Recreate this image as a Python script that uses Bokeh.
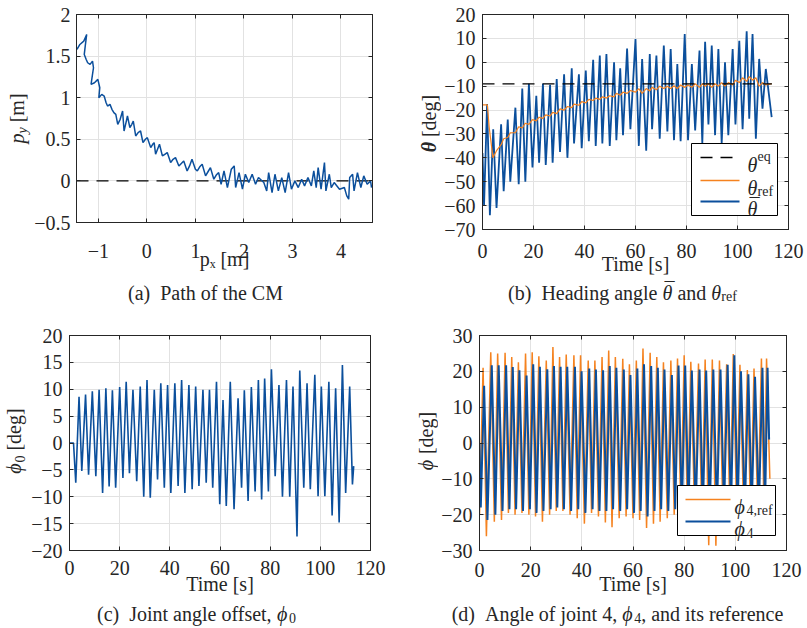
import math
from bokeh.plotting import figure
from bokeh.layouts import column, row
from bokeh.models import (Range1d, FixedTicker, LinearAxis, Grid, CustomJSTickFormatter,
                          Label, BoxAnnotation, Arrow)
from bokeh.embed import file_html
from bokeh.resources import INLINE
from bokeh.core.validation import silence
from bokeh.core.validation.warnings import MISSING_RENDERERS

silence(MISSING_RENDERERS, True)

FONT = "Liberation Serif"
BLUE = "#0b4f9c"
ORANGE = "#f5821f"
INK = "#262626"
GRID = "#e2e2e2"

# ---------------- (a) path of the CM ----------------
px_path = [-1.44, -1.38, -1.30, -1.24, -1.27, -1.29, -1.25, -1.22, -1.17, -1.12,
           -1.10, -1.13, -1.15, -1.08, -1.01, -0.97, -0.99, -0.93, -0.88, -0.84,
           -0.81, -0.76, -0.72, -0.68, -0.64, -0.60, -0.55, -0.50, -0.47, -0.43,
           -0.40, -0.35, -0.31, -0.28, -0.23, -0.18, -0.13, -0.08, -0.03, 0.01,
           0.08, 0.12, 0.15, 0.18, 0.22, 0.26, 0.32, 0.37, 0.42, 0.49,
           0.54, 0.59, 0.66, 0.71, 0.76, 0.83, 0.88, 0.93, 1.00, 1.04,
           1.09, 1.14, 1.21, 1.26, 1.31, 1.38, 1.43, 1.48, 1.53, 1.59,
           1.66, 1.74, 1.80, 1.83, 1.90, 1.97, 2.03, 2.10, 2.17, 2.24,
           2.30, 2.41, 2.47, 2.51, 2.58, 2.64, 2.71, 2.78, 2.85, 2.92,
           2.98, 3.05, 3.12, 3.19, 3.25, 3.32, 3.39, 3.44, 3.49, 3.53,
           3.59, 3.66, 3.69, 3.76, 3.80, 3.86, 3.97, 4.07, 4.12, 4.16,
           4.18, 4.24, 4.27, 4.34, 4.41, 4.47, 4.54, 4.61, 4.63]
py_path = [1.58, 1.64, 1.68, 1.76, 1.62, 1.52, 1.46, 1.42, 1.40, 1.44,
           1.36, 1.24, 1.16, 1.18, 1.22, 1.12, 1.00, 1.04, 1.02, 0.94,
           0.90, 0.92, 0.86, 0.82, 0.80, 0.68, 0.74, 0.84, 0.60, 0.70,
           0.78, 0.64, 0.68, 0.72, 0.54, 0.58, 0.60, 0.46, 0.50, 0.52,
           0.40, 0.44, 0.46, 0.32, 0.38, 0.44, 0.30, 0.32, 0.34, 0.22,
           0.26, 0.28, 0.18, 0.21, 0.24, 0.12, 0.18, 0.26, 0.14, 0.12,
           0.17, 0.20, 0.06, 0.11, 0.16, 0.02, 0.07, 0.10, -0.04, 0.12,
           -0.08, 0.14, 0.18, -0.08, 0.10, -0.10, 0.08, -0.02, 0.08, -0.04,
           0.04, -0.02, -0.12, 0.10, -0.14, 0.08, -0.12, 0.04, -0.14, 0.10,
           -0.10, 0.00, -0.08, 0.02, -0.06, 0.04, -0.06, 0.12, -0.08, 0.16,
           -0.10, 0.22, -0.12, 0.08, -0.08, -0.02, -0.10, -0.08, -0.18, -0.22,
           0.04, 0.08, -0.12, 0.10, -0.08, 0.06, -0.04, 0.00, -0.08]
py_desired = [0.0, 0.0]
px_desired = [-1.45, 4.65]
a_xticks = [-1, 0, 1, 2, 3, 4]
a_yticks = [-0.5, 0, 0.5, 1, 1.5, 2]

# ---------------- (b) heading angle ----------------
theta_t = [0.0, 0.6, 1.8, 2.9, 4.2, 5.5, 7.3, 8.3, 9.9, 10.9,
           12.9, 14.2, 15.6, 16.8, 18.2, 19.6, 21.1, 22.2, 23.7, 24.8,
           26.5, 27.5, 29.1, 30.4, 32.0, 33.3, 35.0, 35.9, 37.8, 38.9,
           40.5, 41.7, 43.4, 44.4, 46.0, 47.0, 48.6, 49.9, 51.6, 52.5,
           54.0, 55.1, 56.7, 58.0, 60.0, 61.3, 62.6, 64.2, 65.6, 66.5,
           68.2, 69.5, 71.1, 72.5, 73.8, 75.1, 76.4, 77.7, 79.3, 80.6,
           82.1, 83.4, 85.1, 86.2, 87.3, 88.6, 89.9, 91.2, 92.5, 93.8,
           95.1, 96.4, 98.1, 99.2, 100.7, 102.0, 103.6, 104.6, 105.9, 107.2,
           108.5, 109.8, 111.1, 113.4]
theta_v = [-38, -60, -17.5, -64, -28, -61, -26, -54, -24, -50,
           -19, -51, -11, -50, -9, -44, -14, -42, -9, -43,
           -9.4, -42, -7, -37.5, -5, -40, -2.5, -34, -5, -36,
           -3.5, -33, 1, -35, 2.8, -34, 3.5, -35, 0, -32.6,
           -2.5, -30.5, 5.8, -28, 9.7, -35, 1.4, -37, 3.5, -28,
           2.8, -32, 7, -29, 5.5, -32.6, -0.7, -33, 11.8, -32.6,
           -0.7, -28.5, 4.9, -34, 8.6, -26, 7, -30.5, 5.5, -34,
           0, -30.5, 5.5, -26, 9, -28, 13, -23.6, 11.8, -32,
           1.4, -19.4, -2.8, -23]
ref_t = [0.0, 1.9, 2.6, 4.1, 5.5, 7.3, 8.3, 9.9, 10.9, 12.9,
         14.2, 15.6, 16.8, 18.2, 19.6, 21.1, 22.2, 23.7, 24.8, 26.5,
         27.5, 29.1, 30.4, 32.0, 33.3, 35.0, 35.9, 37.8, 38.9, 40.5,
         41.7, 43.4, 44.4, 46.0, 47.0, 48.6, 49.9, 51.6, 52.5, 54.0,
         55.1, 56.7, 58.0, 60.0, 61.3, 62.6, 64.2, 65.6, 66.5, 68.2,
         69.5, 71.1, 72.5, 73.8, 75.1, 76.4, 77.7, 79.3, 80.6, 82.1,
         83.4, 85.1, 86.2, 87.3, 88.6, 89.9, 91.2, 92.5, 93.8, 95.1,
         96.4, 98.1, 99.2, 100.7, 102.0, 103.6, 104.6, 105.9, 107.2, 108.5,
         109.8, 111.1, 113.4]
ref_v = [-17.8, -17.8, -27, -40, -37, -34.5, -32, -31.5, -29.5, -29.5,
         -27, -27.5, -25.5, -26, -24, -24.5, -23, -23.5, -22, -22.5,
         -21, -21.5, -19.5, -20, -18.5, -19, -17.5, -18, -16.5, -17,
         -15.5, -16, -15, -15.5, -14.5, -15, -14, -14.5, -13, -13.8,
         -12.5, -13, -11.8, -12.5, -11, -13, -11, -12, -10.5, -11.5,
         -10, -11, -10, -11, -9.8, -11, -9.5, -10.5, -9.5, -10.5,
         -9, -10.5, -9, -10, -9, -10.5, -9, -10, -8.5, -10,
         -8.5, -9.5, -7.5, -8.5, -6.5, -8, -6, -7.5, -6.5, -10,
         -8.5, -9.5, -9]
eq_t = [0.0, 113.5]
eq_v = [-9.0, -9.0]
time_ticks = [0, 20, 40, 60, 80, 100, 120]
b_yticks = [-70, -60, -50, -40, -30, -20, -10, 0, 10, 20]

# ---------------- (c) joint angle offset ----------------
phi0_t = [0.0, 1.6, 2.5, 3.8, 4.9, 6.4, 7.6, 9.1, 10.5, 11.8,
          13.2, 14.5, 15.8, 17.1, 18.4, 20.0, 21.3, 22.6, 23.9, 25.3,
          26.8, 28.2, 29.6, 30.9, 32.2, 33.8, 35.1, 36.4, 37.8, 39.1,
          40.4, 42.0, 43.3, 44.7, 46.0, 47.6, 48.9, 50.3, 51.6, 53.2,
          54.5, 55.8, 57.1, 58.6, 59.9, 61.2, 62.5, 64.1, 65.6, 67.2,
          68.6, 69.7, 71.2, 72.5, 74.0, 75.3, 76.6, 77.8, 79.3, 80.5,
          82.0, 83.5, 84.9, 86.5, 87.8, 89.1, 90.7, 91.8, 93.4, 94.7,
          96.0, 97.8, 99.1, 100.4, 101.8, 103.4, 104.7, 106.1, 107.5, 108.8,
          110.1, 111.7, 112.8, 113.3]
phi0_v = [0, 0, -7.4, 8.6, -5.2, 9.0, -5.9, 9.6, -6.2, 9.9,
          -9.3, 10.2, -8.1, 9.8, -8.3, 10.4, -6.5, 11.4, -5.6, 9.9,
          -7.1, 10.5, -10.0, 11.7, -10.2, 9.9, -6.8, 11.1, -8.3, 10.8,
          -9.3, 11.1, -8.0, 11.7, -9.3, 10.8, -8.6, 10.5, -8.0, 9.9,
          -7.4, 9.9, -8.3, 11.4, -11.4, 8.0, -11.7, 11.4, -12.3, 8.3,
          -8.3, 9.8, -10.8, 10.4, -9.0, 11.7, -10.5, 12.0, -9.0, 13.7,
          -6.2, 10.8, -10.0, 11.7, -10.0, 10.5, -17.4, 13.5, -8.3, 11.1,
          -8.6, 12.7, -9.9, 10.5, -9.9, 11.4, -13.5, 10.2, -14.8, 14.5,
          -9.3, 10.5, -7.7, -4.3]
c_yticks = [-20, -15, -10, -5, 0, 5, 10, 15, 20]

# ---------------- (d) angle of joint 4 ----------------
phi4_peak_t = [1.8, 4.8, 7.5, 10.4, 13.0, 15.6, 18.4, 21.0, 23.6, 26.5,
               29.1, 31.7, 34.3, 37.3, 39.9, 42.9, 45.5, 48.3, 50.9, 53.5,
               56.4, 59.0, 61.7, 64.3, 67.1, 69.7, 72.3, 75.2, 77.8, 80.4,
               83.0, 86.0, 88.6, 91.4, 94.2, 97.0, 99.6, 102.2, 105.1, 107.7,
               110.6, 112.6]
phi4_peak_v = [16.0, 21.7, 21.7, 21.7, 21.2, 20.3, 18.8, 22.0, 21.3, 20.6,
               21.5, 21.3, 21.3, 21.3, 20.0, 20.8, 20.5, 20.3, 21.5, 21.0,
               20.5, 19.0, 20.8, 22.0, 21.5, 21.0, 20.5, 19.0, 21.6, 21.6,
               20.2, 20.5, 20.2, 20.5, 20.5, 21.8, 24.5, 20.0, 19.2, 18.5,
               21.0, 21.0]
phi4_trough_t = [0.5, 3.1, 6.2, 9.0, 11.7, 14.3, 17.0, 19.7, 22.3, 25.0,
                 27.8, 30.4, 33.0, 35.8, 38.6, 41.4, 44.2, 46.9, 49.6, 52.2,
                 55.0, 57.7, 60.4, 63.0, 65.7, 68.4, 71.0, 73.8, 76.5, 79.1,
                 81.7, 84.5, 87.3, 90.0, 92.8, 95.6, 98.3, 100.9, 103.7, 106.4,
                 109.2, 111.6]
phi4_trough_v = [-18.0, -21.5, -20.0, -19.0, -18.5, -18.5, -19.0, -18.5, -19.5, -19.0,
                 -18.5, -18.0, -18.5, -19.0, -18.5, -19.5, -18.5, -19.0, -19.0, -18.5,
                 -19.0, -18.5, -19.5, -19.0, -20.5, -19.0, -18.5, -19.0, -18.5, -19.5,
                 -18.5, -19.0, -19.5, -19.0, -19.5, -18.5, -19.0, -18.5, -19.5, -19.0,
                 -19.0, -18.5]
phi4_ends_t = [0.0, 113.2]
phi4_ends_v = [0.0, 1.0]
ref4_peak_t = [1.4, 4.4, 7.1, 10.0, 12.6, 15.2, 18.0, 20.6, 23.2, 26.1,
               28.7, 31.3, 33.9, 36.9, 39.5, 42.5, 45.1, 47.9, 50.5, 53.1,
               56.0, 58.6, 61.3, 63.9, 66.7, 69.3, 71.9, 74.8, 77.4, 80.0,
               82.6, 85.6, 88.2, 91.0, 93.8, 96.6, 99.2, 101.8, 104.7, 107.3,
               110.2, 112.2]
ref4_peak_v = [21.0, 25.3, 25.0, 25.2, 24.0, 22.5, 25.0, 25.3, 24.2, 23.0,
               26.8, 24.0, 24.7, 24.5, 24.5, 23.0, 23.0, 24.0, 25.8, 24.0,
               23.5, 22.0, 23.0, 26.4, 25.2, 24.0, 22.5, 23.0, 23.6, 24.5,
               22.7, 22.2, 23.3, 23.3, 23.0, 22.0, 24.8, 21.8, 20.4, 20.8,
               23.6, 23.6]
ref4_trough_t = [2.7, 5.8, 8.6, 11.3, 13.9, 16.6, 19.3, 21.9, 24.6, 27.4,
                 30.0, 32.6, 35.4, 38.2, 41.0, 43.8, 46.5, 49.2, 51.8, 54.6,
                 57.3, 60.0, 62.6, 65.3, 68.0, 70.6, 73.4, 76.1, 78.7, 81.3,
                 84.1, 86.9, 89.6, 92.4, 95.2, 97.9, 100.5, 103.3, 106.0, 108.8,
                 111.2]
ref4_trough_v = [-26.0, -22.0, -21.5, -19.5, -20.0, -19.5, -20.0, -20.5, -22.0, -20.0,
                 -19.0, -19.0, -20.0, -21.0, -22.5, -19.5, -20.5, -22.2, -23.5, -21.0,
                 -20.5, -21.0, -21.5, -23.7, -22.5, -22.0, -21.0, -20.0, -19.5, -20.0,
                 -20.5, -21.0, -28.5, -28.7, -21.5, -21.0, -19.0, -21.0, -22.0, -20.0,
                 -20.0]
ref4_ends_t = [0.0, 113.5]
ref4_ends_v = [-20.0, -10.0]
d_yticks = [-30, -20, -10, 0, 10, 20, 30]


def merged(*pairs):
    pts = []
    for ts, vs in pairs:
        pts.extend(zip(ts, vs))
    pts.sort(key=lambda q: q[0])
    return [q[0] for q in pts], [q[1] for q in pts]


# Times-compatible advance widths (per 1000 em)
W = {" ": 250, "(": 333, ")": 333, "[": 333, "]": 333, ",": 250, ".": 250,
     "a": 444, "b": 500, "c": 444, "d": 500, "e": 444, "f": 333, "g": 500, "h": 500,
     "i": 278, "j": 278, "l": 278, "m": 778, "n": 500, "o": 500, "p": 500, "q": 500,
     "r": 333, "s": 389, "t": 278, "u": 500, "x": 444, "y": 444,
     "A": 722, "C": 667, "H": 722, "J": 389, "M": 889, "P": 556, "T": 611,
     "\u03b8": 500, "\u03d5": 600}


def tw(s, size):
    return sum(W.get(ch, 500) for ch in s) * size / 1000.0


def pw(part):
    if part[0] is None:
        return part[1]
    return tw(part[0], part[1])


def make(w, h, bl, br, bt, bb, xr, yr, xticks, yticks, xstand, xtitle, tstand, ystand=7):
    p = figure(width=w, height=h, x_range=Range1d(*xr), y_range=Range1d(*yr),
               x_axis_type=None, y_axis_type=None, output_backend="svg",
               toolbar_location=None, tools="",
               min_border_left=bl, min_border_right=br, min_border_top=bt, min_border_bottom=bb,
               background_fill_color="white", border_fill_color="white",
               outline_line_color=INK, outline_line_width=1)
    fmt = CustomJSTickFormatter(code="return tick < 0 ? '\\u2212' + String(-tick) : String(tick);")
    blank = CustomJSTickFormatter(code="return '';")
    p.add_layout(Grid(dimension=0, ticker=FixedTicker(ticks=xticks),
                      grid_line_color=GRID, grid_line_width=1))
    p.add_layout(Grid(dimension=1, ticker=FixedTicker(ticks=yticks),
                      grid_line_color=GRID, grid_line_width=1))

    def ax(ticks, loc, shown, stand, title=None, ts=0):
        a = LinearAxis(ticker=FixedTicker(ticks=ticks), formatter=fmt if shown else blank,
                       major_tick_in=4, major_tick_out=0, minor_tick_in=0, minor_tick_out=0,
                       axis_line_color=INK, axis_line_width=1, major_tick_line_color=INK,
                       major_label_text_font=FONT, major_label_text_color=INK,
                       major_label_text_font_size="20px" if shown else "0px",
                       major_label_standoff=stand)
        if title is not None:
            a.axis_label = title
            a.axis_label_standoff = ts
            a.axis_label_text_font = FONT
            a.axis_label_text_font_size = "20px"
            a.axis_label_text_font_style = "normal"
            a.axis_label_text_color = INK
        p.add_layout(a, loc)

    ax(xticks, "below", True, xstand, xtitle, tstand)
    ax(yticks, "left", True, ystand)
    ax(xticks, "above", False, 0)
    ax(yticks, "right", False, 0)
    return p


def tfig(w, h):
    return figure(width=w, height=h, x_range=Range1d(0, w), y_range=Range1d(0, h),
                  x_axis_type=None, y_axis_type=None, output_backend="svg",
                  toolbar_location=None, tools="", min_border=0,
                  outline_line_color=None, background_fill_color="white",
                  border_fill_color="white")


def put(p, fr, x, y, text, size=20, style="normal", align="left", base="alphabetic",
        angle=0.0):
    fl, fb = fr
    p.add_layout(Label(x=x - fl, y=fb - y, x_units="screen", y_units="screen", text=text,
                       text_font=FONT, text_font_size=f"{size}px", text_font_style=style,
                       text_color=INK, text_align=align, text_baseline=base,
                       angle=angle))


def run_h(p, fr, x, y, parts, center=True):
    total = sum(pw(q) for q in parts)
    pos = x - total / 2 if center else x
    for q in parts:
        if q[0] is None:
            pos += q[1]
            continue
        text, size, style, shift = q[:4]
        put(p, fr, pos, y - shift, text, size, style)
        if len(q) > 4 and q[4]:
            put(p, fr, pos + tw(text, size) / 2 + 0.5, y - shift - 3, "\u00af", size, style,
                align="center")
        pos += tw(text, size)


def run_v(p, fr, x, yc, parts):
    # vertical text reading upward; x is the baseline position; each run is centred
    total = sum(pw(q) for q in parts)
    pos = yc + total / 2
    for q in parts:
        if q[0] is None:
            pos -= q[1]
            continue
        text, size, style, shift = q
        w = tw(text, size)
        xm = x - shift - 0.3375 * size
        put(p, fr, xm, pos - w / 2, text, size, style, align="center", base="middle",
            angle=math.pi / 2)
        pos -= w


def sample(p, fr, x0, x1, y, color, width, dash="solid"):
    fl, fb = fr
    p.add_layout(Arrow(end=None, x_start=x0 - fl, y_start=fb - y, x_end=x1 - fl, y_end=fb - y,
                       start_units="screen", end_units="screen",
                       line_color=color, line_width=width, line_dash=dash))


def legend_box(p, fr, l, r, t, b):
    fl, fb = fr
    p.add_layout(BoxAnnotation(left=l - fl, right=r - fl, top=fb - t, bottom=fb - b,
                               left_units="screen", right_units="screen",
                               top_units="screen", bottom_units="screen",
                               fill_color="white", fill_alpha=1.0,
                               line_color="#000000", line_width=1, line_alpha=1.0))


# ---------------- panel (a) ----------------
# the narrow title figures share the frame band of their neighbouring plot
ta = tfig(31, 277)
pa = make(369, 277, 42, 28, 14, 55, (px_desired[0], px_desired[1]), (-0.5, 2.0),
          a_xticks, a_yticks, xstand=21, xtitle="p\u2093 [m]", tstand=-13, ystand=6)
capA = tfig(400, 39)
pa.line(px_desired, py_desired, line_color="#000000", line_width=1.2, line_dash="12 8")
pa.line(px_path, py_path, line_color=BLUE, line_width=1.5)
run_v(ta, (0, 222), 23, 118, [("p", 20, "italic", 0), ("y", 14, "italic", -4), (None, 5),
                              ("[m]", 20, "normal", 0)])
run_h(capA, (0, 316), 205, 292, [("(a)", 20, "normal", 0), (None, 10),
                                 ("Path of the CM", 20, "normal", 0)])

# ---------------- panel (b) ----------------
tb = tfig(41, 277)
pb = make(366, 277, 39, 19, 14, 47, (0, 120), (-70, 20), time_ticks, b_yticks,
          xstand=14, xtitle="Time [s]", tstand=-8)
capB = tfig(407, 39)
fb_ = (480, 230)
pb.line(theta_t, theta_v, line_color=BLUE, line_width=1.8)
pb.line(ref_t, ref_v, line_color=ORANGE, line_width=1.2)
pb.line(eq_t, eq_v, line_color="#000000", line_width=1.3, line_dash="12 8")
run_v(tb, (400, 230), 435, 124, [("\u03b8", 20, "bold italic", 0), (None, 5),
                                 ("[deg]", 20, "normal", 0)])
run_h(capB, (400, 316), 622, 292, [("(b)", 20, "normal", 0), (None, 10),
                                   ("Heading angle", 20, "normal", 0), (None, 5),
                                   ("\u03b8", 20, "italic", 0, True), (None, 5),
                                   ("and", 20, "normal", 0), (None, 5),
                                   ("\u03b8", 20, "italic", 0), ("ref", 14, "normal", -4)])
legend_box(pb, fb_, 689, 775, 144, 216)
sample(pb, fb_, 698, 737, 158, "#000000", 1.3, "12 8")
sample(pb, fb_, 698, 737, 181, ORANGE, 1.5)
sample(pb, fb_, 698, 737, 202, BLUE, 1.8)
run_h(pb, fb_, 745, 165, [("\u03b8", 20, "italic", 0), ("eq", 14, "normal", 8)], center=False)
run_h(pb, fb_, 745, 188, [("\u03b8", 20, "italic", 0), ("ref", 14, "normal", -4)], center=False)
run_h(pb, fb_, 745, 209, [("\u03b8", 20, "italic", 0, True)], center=False)

# ---------------- panel (c) ----------------
tc = tfig(28, 281)
pc = make(372, 281, 39, 30, 19, 45, (0, 120), (-20, 20), time_ticks, c_yticks,
          xstand=10, xtitle="Time [s]", tstand=-5)
capC = tfig(400, 31)
pc.line(phi0_t, phi0_v, line_color=BLUE, line_width=1.6)
run_v(tc, (0, 552), 20, 443, [("\u03d5", 20, "italic", 0), ("0", 14, "normal", -4), (None, 5),
                              ("[deg]", 20, "normal", 0)])
run_h(capC, (0, 628), 196, 613, [("(c)", 20, "normal", 0), (None, 10),
                                 ("Joint angle offset,", 20, "normal", 0), (None, 5),
                                 ("\u03d5", 20, "italic", 0), ("0", 14, "normal", -4)])

# ---------------- panel (d) ----------------
td = tfig(38, 281)
pd_ = make(369, 281, 39, 21, 19, 45, (0, 120), (-30, 30), time_ticks, d_yticks,
           xstand=12, xtitle="Time [s]", tstand=-7)
capD = tfig(407, 31)
fd = (477, 552)
r4_t, r4_v = merged((ref4_ends_t, ref4_ends_v), (ref4_peak_t, ref4_peak_v),
                    (ref4_trough_t, ref4_trough_v))
p4_t, p4_v = merged((phi4_ends_t, phi4_ends_v), (phi4_peak_t, phi4_peak_v),
                    (phi4_trough_t, phi4_trough_v))
pd_.line(r4_t, r4_v, line_color=ORANGE, line_width=1.5)
pd_.line(p4_t, p4_v, line_color=BLUE, line_width=2.0)
run_v(td, (400, 552), 432, 443, [("\u03d5", 20, "italic", 0), (None, 5),
                                 ("[deg]", 20, "normal", 0)])
run_h(capD, (400, 628), 617, 613, [("(d)", 20, "normal", 0), (None, 10),
                                   ("Angle of joint 4,", 20, "normal", 0), (None, 5),
                                   ("\u03d5", 20, "italic", 0), ("4", 14, "normal", -4),
                                   (", and its reference", 20, "normal", 0)])
legend_box(pd_, fd, 675, 773, 487, 537)
sample(pd_, fd, 683, 728, 501, ORANGE, 1.5)
sample(pd_, fd, 683, 728, 523, BLUE, 2.0)
run_h(pd_, fd, 732, 508, [("\u03d5", 20, "italic", 0), ("4,ref", 14, "normal", -4)], center=False)
run_h(pd_, fd, 732, 530, [("\u03d5", 20, "italic", 0), ("4", 14, "normal", -4)], center=False)

top = row(column(row(ta, pa), capA), column(row(tb, pb), capB))
bottom = row(column(row(tc, pc), capC), column(row(td, pd_), capD))
layout = column(top, bottom)
open("out.html", "w", encoding="utf-8").write(file_html(layout, INLINE))
